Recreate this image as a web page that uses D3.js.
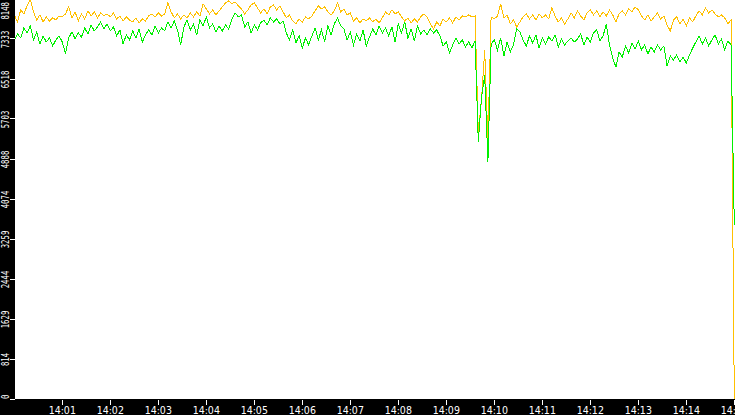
<!DOCTYPE html>
<html>
<head>
<meta charset="utf-8">
<script src="https://cdn.jsdelivr.net/npm/d3@7"></script>
<style>
	html, body { margin: 0; padding: 0; background: #000; overflow: hidden; }
	svg { display: block; }
</style>
</head>
<body>
<div id="chart"></div>
<script>
// one sample every 4 seconds, 14:00:00 .. 14:15:00
var startTime = new Date(2020, 0, 1, 14, 0, 0);
var endTime = new Date(2020, 0, 1, 14, 15, 0);
var stepSeconds = 4;

var orangeValues = [
	7834,7691,7936,7855,8018,8148,7895,7732,7834,7691,
	7793,7711,7773,7732,7813,7793,7855,7997,7773,7895,
	7711,7855,7752,7916,7813,7895,7773,7875,7813,7855,
	7793,7875,7752,7813,7711,7793,7732,7691,7773,7671,
	7752,7711,7813,7855,7793,7875,7813,7855,8079,7895,
	7773,7855,7752,7834,7773,7875,7793,7895,7813,8058,
	7956,7855,7936,7834,7916,7997,8079,8120,8058,8099,
	8018,7956,7855,7936,8038,8079,7977,7875,7956,7855,
	7997,8038,7936,8018,7895,7773,7834,7711,7650,7752,
	7691,7793,7752,7813,7916,8018,7956,7997,7895,7834,
	7916,8079,7895,7956,7834,7875,7711,7773,7671,7752,
	7711,7773,7691,7752,7671,7773,7895,7834,7936,7855,
	7895,7793,7711,7773,7671,7752,7691,7793,7855,7793,
	7650,7548,7691,7609,7752,7691,7773,7671,7793,7732,
	7813,7793,7834,7793,7813,5430,6100,7115,5290,7793,
	7752,7813,8058,7773,7834,7650,7732,7589,7691,7793,
	7855,7752,7834,7732,7855,7773,7834,7752,7977,7813,
	7691,7773,7650,7752,7875,7773,7916,7813,7732,7875,
	7936,7834,7916,7793,7895,7813,7936,7834,7691,7855,
	7916,7834,7956,7895,7997,7936,7813,7732,7834,7711,
	7793,7875,7752,7813,7630,7508,7732,7793,7650,7752,
	7609,7773,7691,7813,7916,7834,7977,7875,7936,7855,
	7793,7834,7773,7650,7732,0
];

var greenValues = [
	7324,7446,7365,7569,7467,7609,7324,7487,7242,7406,
	7283,7365,7202,7324,7406,7283,7038,7365,7487,7344,
	7467,7385,7569,7446,7630,7508,7589,7691,7548,7650,
	7508,7589,7406,7528,7242,7426,7324,7508,7365,7548,
	7283,7426,7528,7426,7609,7467,7569,7508,7691,7569,
	7711,7528,7222,7589,7732,7528,7650,7426,7732,7609,
	7793,7569,7650,7487,7609,7508,7630,7548,7752,7875,
	7793,7834,7589,7691,7467,7630,7528,7671,7732,7630,
	7773,7691,7752,7650,7711,7467,7324,7528,7263,7406,
	7161,7365,7222,7406,7569,7324,7528,7283,7609,7426,
	7650,7773,7609,7548,7324,7487,7222,7446,7304,7528,
	7202,7385,7548,7426,7609,7467,7569,7406,7589,7283,
	7650,7467,7691,7365,7548,7304,7609,7446,7528,7426,
	7548,7467,7528,7406,7202,7283,7059,7222,7365,7242,
	7324,7181,7283,7161,7304,5250,6150,6605,4840,7242,
	7324,7120,7365,6997,7283,7079,7222,7548,7487,7324,
	7202,7406,7263,7426,7161,7365,7242,7385,7304,7426,
	7181,7344,7222,7304,7365,7283,7344,7446,7222,7385,
	7283,7467,7528,7304,7406,7650,7222,6957,6773,7079,
	6977,7202,7059,7263,7141,7304,7120,7222,7038,7181,
	7079,7222,7120,7202,6794,6997,6916,7018,6875,6977,
	6855,7018,7161,7283,7406,7242,7365,7202,7324,7426,
	7242,7344,7120,7304,7222,3560
];

var seriesColors = ["#00f000", "#ffc000"];

(function () {
	var width = 735, height = 415;
	var plotLeft = 15, plotBottom = 399;
	var labelFont = "'DejaVu Sans Condensed', 'DejaVu Sans', sans-serif";
	var valueFont = "'DejaVu Sans Mono', monospace";

	var maxValue = d3.max(orangeValues.concat(greenValues));

	var x = d3.scaleTime()
		.domain([startTime, endTime])
		.range([14.3, 734.3]);

	var y = d3.scaleLinear()
		.domain([0, maxValue])
		.range([plotBottom + 0.5, -0.5]);

	var toPoints = function (values) {
		return values.map(function (v, i) {
			return { t: d3.timeSecond.offset(startTime, i * stepSeconds), v: v };
		});
	};

	var svg = d3.select("#chart").append("svg")
		.attr("width", width)
		.attr("height", height);

	svg.append("rect")
		.attr("width", width)
		.attr("height", height)
		.attr("fill", "#000");

	svg.append("rect")
		.attr("x", plotLeft)
		.attr("y", 0)
		.attr("width", width - plotLeft)
		.attr("height", plotBottom)
		.attr("fill", "#fff");

	var clip = svg.append("clipPath").attr("id", "plotClip");
	clip.append("rect")
		.attr("x", plotLeft)
		.attr("y", 0)
		.attr("width", width - plotLeft)
		.attr("height", plotBottom + 1);

	var line = d3.line()
		.x(function (d) { return x(d.t); })
		.y(function (d) { return y(d.v); });

	var lines = svg.append("g").attr("clip-path", "url(#plotClip)");
	[orangeValues, greenValues].forEach(function (values, i) {
		lines.append("path")
			.datum(toPoints(values))
			.attr("d", line)
			.attr("fill", "none")
			.attr("stroke", i == 0 ? seriesColors[1] : seriesColors[0])
			.attr("stroke-width", 1)
			.attr("shape-rendering", "crispEdges");
	});

	// x axis: ticks in the black strip, labels below
	var xTicks = d3.timeMinute.range(d3.timeMinute.offset(startTime, 1), d3.timeSecond.offset(endTime, 1));
	var xAxis = svg.append("g").attr("class", "x-axis");
	xAxis.selectAll("line")
		.data(xTicks)
		.enter().append("line")
		.attr("x1", function (d) { return Math.round(x(d)) + 0.5; })
		.attr("x2", function (d) { return Math.round(x(d)) + 0.5; })
		.attr("y1", plotBottom + 1)
		.attr("y2", plotBottom + 6)
		.attr("stroke", "#fff");
	xAxis.selectAll("text")
		.data(xTicks)
		.enter().append("text")
		.attr("x", function (d) { return x(d); })
		.attr("y", 414)
		.attr("text-anchor", "middle")
		.attr("fill", "#fff")
		.style("font-family", labelFont)
		.style("font-size", "10.5px")
		.text(d3.timeFormat("%H:%M"));

	// y axis: eleven evenly spaced ticks up to the max, labels rotated
	var yTicks = d3.range(11).map(function (k) { return maxValue * k / 10; });
	var yAxis = svg.append("g").attr("class", "y-axis");
	yAxis.selectAll("line")
		.data(yTicks)
		.enter().append("line")
		.attr("x1", 10)
		.attr("x2", plotLeft)
		.attr("y1", function (d) { return Math.round(y(d)) - 0.5; })
		.attr("y2", function (d) { return Math.round(y(d)) - 0.5; })
		.attr("stroke", "#fff");
	yAxis.selectAll("text")
		.data(yTicks)
		.enter().append("text")
		.each(function (d) {
			var label = String(Math.floor(d + 1e-6));
			var len = label.length * 4.4;
			var cy = Math.max(len / 2 + 2, Math.min(plotBottom - len / 2, y(d)));
			d3.select(this)
				.attr("transform", "translate(8.8," + cy + ") rotate(-90)")
				.attr("text-anchor", "middle")
				.attr("fill", "#fff")
				.attr("textLength", len)
				.attr("lengthAdjust", "spacingAndGlyphs")
				.style("font-family", valueFont)
				.style("font-size", "10px")
				.text(label);
		});
})();
</script>
</body>
</html>
